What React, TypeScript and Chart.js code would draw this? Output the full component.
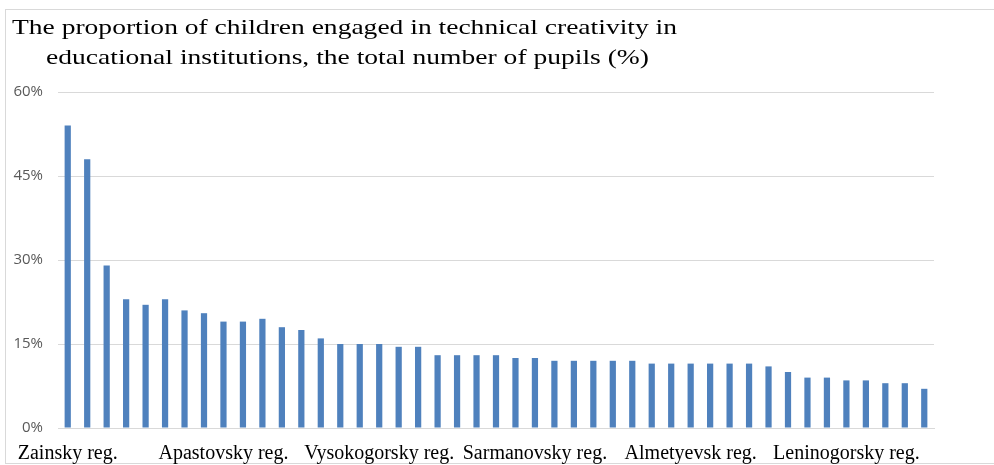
import React, { useEffect, useRef } from "react";
import { Chart, registerables } from "chart.js";

Chart.register(...registerables);

// Region shares of pupils in technical creativity (%), sorted descending.
const regionLabels: string[] = [
  "Zainsky reg.", "", "", "", "", "", "", "",
  "Apastovsky reg.", "", "", "", "", "", "", "",
  "Vysokogorsky reg.", "", "", "", "", "", "", "",
  "Sarmanovsky reg.", "", "", "", "", "", "", "",
  "Almetyevsk reg.", "", "", "", "", "", "", "",
  "Leninogorsky reg.", "", "", "", "",
];

const shareValues: number[] = [
  54, 48, 29, 23, 22, 23, 21, 20.5, 19, 19, 19.5, 18, 17.5, 16, 15, 15, 15,
  14.5, 14.5, 13, 13, 13, 13, 12.5, 12.5, 12, 12, 12, 12, 12, 11.5, 11.5,
  11.5, 11.5, 11.5, 11.5, 11, 10, 9, 9, 8.5, 8.5, 8, 8, 7,
];

const yTicks: number[] = [0, 15, 30, 45, 60];

const titleLines: string[] = [
  "The proportion of children engaged in technical creativity in",
  "educational institutions, the total number of pupils (%)",
];

const BAR_COLOR = "#4f81bd";
const GRID_COLOR = "#d9d9d9";

// Frame and two-line centred title drawn on the canvas.
const framePlugin = {
  id: "frameAndTitle",
  beforeDraw(chart: Chart) {
    const ctx = chart.ctx;
    ctx.save();
    ctx.fillStyle = "#ffffff";
    ctx.fillRect(0, 0, chart.width, chart.height);
    ctx.strokeStyle = GRID_COLOR;
    ctx.lineWidth = 1;
    ctx.strokeRect(5.5, 9.5, 1200, 454);
    ctx.restore();
  },
  afterDraw(chart: Chart) {
    const ctx = chart.ctx;
    const specs = [
      { x: 12, w: 665, y: 34 },
      { x: 46, w: 603, y: 64 },
    ];
    titleLines.forEach((line, i) => {
      const s = specs[i];
      ctx.save();
      ctx.fillStyle = "#000000";
      ctx.font = '22px "Liberation Serif", "Times New Roman", serif';
      ctx.textBaseline = "alphabetic";
      ctx.textAlign = "left";
      const natural = ctx.measureText(line).width;
      const sx = s.w / natural;
      ctx.translate(s.x, s.y);
      ctx.scale(sx, 1);
      ctx.fillText(line, 0, 0);
      ctx.restore();
    });
  },
};

export default function App() {
  const canvasRef = useRef<HTMLCanvasElement | null>(null);

  useEffect(() => {
    const canvas = canvasRef.current;
    if (!canvas) return;
    const chart = new Chart(canvas, {
      type: "bar",
      data: {
        labels: regionLabels,
        datasets: [
          {
            data: shareValues,
            backgroundColor: BAR_COLOR,
            borderWidth: 0,
            categoryPercentage: 1,
            barPercentage: 0.32,
          },
        ],
      },
      options: {
        animation: false,
        responsive: false,
        devicePixelRatio: 1,
        layout: { padding: { top: 92, left: 0, right: 60, bottom: 0 } },
        plugins: {
          legend: { display: false },
          title: { display: false },
          tooltip: { enabled: false },
        },
        scales: {
          x: {
            grid: { display: false, drawTicks: false },
            border: { display: true, color: GRID_COLOR, width: 1 },
            ticks: {
              autoSkip: false,
              maxRotation: 0,
              minRotation: 0,
              padding: 14,
              color: "#000000",
              font: { family: '"Liberation Serif", "Times New Roman", serif', size: 20 },
            },
            afterFit(scale: any) {
              scale.height = 37;
            },
          },
          y: {
            min: 0,
            max: 60,
            afterBuildTicks(scale: any) {
              scale.ticks = yTicks.map((v) => ({ value: v }));
            },
            grid: { color: GRID_COLOR, lineWidth: 1, drawTicks: false },
            border: { display: false },
            ticks: {
              padding: 15,
              color: "#595959",
              font: { family: '"Open Sans", "Liberation Sans", sans-serif', size: 15 },
              callback: (v: any) => `${v}%`,
            },
            afterFit(scale: any) {
              scale.width = 58;
            },
          },
        },
      },
      plugins: [framePlugin],
    });
    return () => chart.destroy();
  }, []);

  return (
    <div style={{ position: "absolute", left: 0, top: 0, width: 994, height: 465, background: "#fff" }}>
      <canvas ref={canvasRef} width={994} height={465} style={{ display: "block", width: 994, height: 465 }} />
    </div>
  );
}
